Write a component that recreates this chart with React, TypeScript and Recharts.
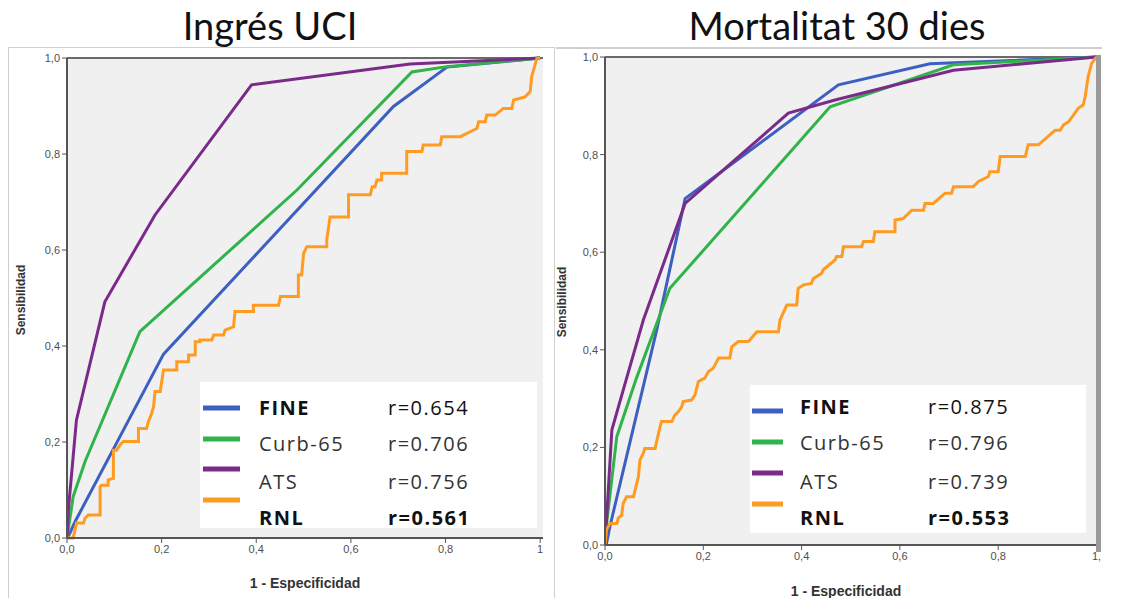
import React from 'react';
import { LineChart, Line, XAxis, YAxis, CartesianGrid, ReferenceLine } from 'recharts';

// ---- Data: ROC curves, [1 - especificidad, sensibilidad] ----
const uciFine = [[0,0],[0.006,0.01],[0.017,0.034],[0.204,0.383],[0.69,0.899],[0.803,0.981],[1,1]];
const uciCurb = [[0,0],[0.013,0.086],[0.038,0.159],[0.154,0.43],[0.486,0.725],[0.729,0.971],[0.803,0.982],[1,1]];
const uciAts = [[0,0],[0.003,0.06],[0.02,0.246],[0.08,0.492],[0.186,0.673],[0.39,0.944],[0.725,0.9875],[1,1]];
const uciRnl = [[0,0],[0.013,0],[0.017,0.017],[0.02,0.031],[0.035,0.031],[0.038,0.041],[0.045,0.048],[0.07,0.048],[0.07,0.107],[0.073,0.11],[0.087,0.11],[0.087,0.121],[0.098,0.124],[0.098,0.183],[0.105,0.183],[0.112,0.194],[0.119,0.201],[0.151,0.201],[0.151,0.228],[0.168,0.228],[0.172,0.242],[0.179,0.26],[0.183,0.274],[0.186,0.305],[0.197,0.305],[0.204,0.35],[0.232,0.35],[0.232,0.367],[0.257,0.367],[0.257,0.381],[0.271,0.381],[0.271,0.409],[0.281,0.409],[0.281,0.4125],[0.306,0.4125],[0.31,0.423],[0.331,0.423],[0.334,0.433],[0.352,0.44],[0.355,0.472],[0.394,0.472],[0.394,0.485],[0.447,0.485],[0.451,0.503],[0.489,0.503],[0.489,0.548],[0.496,0.548],[0.5,0.593],[0.507,0.607],[0.549,0.607],[0.549,0.621],[0.556,0.669],[0.595,0.669],[0.595,0.715],[0.641,0.715],[0.645,0.732],[0.651,0.732],[0.655,0.746],[0.665,0.746],[0.665,0.76],[0.718,0.76],[0.718,0.805],[0.75,0.805],[0.753,0.819],[0.789,0.819],[0.792,0.836],[0.831,0.836],[0.866,0.853],[0.87,0.867],[0.884,0.867],[0.887,0.881],[0.905,0.881],[0.922,0.895],[0.94,0.895],[0.944,0.9125],[0.968,0.919],[0.979,0.93],[0.982,0.961],[0.989,0.985],[0.993,0.999],[1,1]];

const mortFine = [[0,0],[0.003,0.003],[0.01,0.038],[0.105,0.44],[0.163,0.71],[0.475,0.943],[0.661,0.986],[1,1]];
const mortCurb = [[0,0],[0.004,0.05],[0.024,0.222],[0.064,0.342],[0.132,0.526],[0.458,0.898],[0.709,0.984],[1,1]];
const mortAts = [[0,0],[0.003,0.05],[0.014,0.236],[0.044,0.342],[0.078,0.461],[0.163,0.7],[0.373,0.885],[0.468,0.912],[0.709,0.973],[1,1]];
const mortRnl = [[0,0],[0.003,0.031],[0.01,0.044],[0.024,0.044],[0.027,0.055],[0.034,0.061],[0.037,0.085],[0.044,0.099],[0.058,0.099],[0.068,0.14],[0.071,0.174],[0.078,0.188],[0.081,0.198],[0.102,0.198],[0.105,0.212],[0.112,0.242],[0.115,0.253],[0.136,0.253],[0.142,0.266],[0.149,0.273],[0.156,0.283],[0.159,0.294],[0.176,0.297],[0.183,0.307],[0.19,0.335],[0.203,0.342],[0.21,0.355],[0.22,0.362],[0.231,0.383],[0.254,0.383],[0.258,0.406],[0.271,0.417],[0.292,0.417],[0.309,0.437],[0.353,0.437],[0.356,0.461],[0.37,0.492],[0.39,0.492],[0.393,0.526],[0.404,0.533],[0.42,0.536],[0.424,0.546],[0.441,0.557],[0.444,0.564],[0.468,0.584],[0.471,0.591],[0.482,0.591],[0.485,0.611],[0.522,0.611],[0.526,0.622],[0.546,0.622],[0.549,0.642],[0.59,0.642],[0.59,0.666],[0.607,0.669],[0.624,0.686],[0.648,0.686],[0.651,0.7],[0.668,0.7],[0.692,0.721],[0.705,0.721],[0.709,0.734],[0.749,0.734],[0.76,0.745],[0.78,0.755],[0.783,0.765],[0.8,0.765],[0.804,0.796],[0.855,0.796],[0.861,0.82],[0.882,0.82],[0.909,0.844],[0.916,0.85],[0.926,0.85],[0.933,0.861],[0.943,0.867],[0.953,0.881],[0.963,0.895],[0.973,0.902],[0.977,0.919],[0.983,0.96],[0.99,0.987],[1,1]];

const seriesNames = ['FINE', 'Curb-65', 'ATS', 'RNL'];
const uciR = ['r=0.654', 'r=0.706', 'r=0.756', 'r=0.561'];
const mortR = ['r=0.875', 'r=0.796', 'r=0.739', 'r=0.553'];
const xTicks = [0, 0.2, 0.4, 0.6, 0.8, 1];
const yTicks = [0, 0.2, 0.4, 0.6, 0.8, 1];
const xTickLabelsUci = ['0,0', '0,2', '0,4', '0,6', '0,8', '1'];
const xTickLabelsMort = ['0,0', '0,2', '0,4', '0,6', '0,8', '1,'];
const yTickLabels = ['0,0', '0,2', '0,4', '0,6', '0,8', '1,0'];
const titles = ['Ingrés UCI', 'Mortalitat 30 dies'];

const COLORS = ['#3d5fc2', '#30b34a', '#7a2a89', '#ff9b21'];
const toPts = (arr: number[][]) => arr.map(([x, y]) => ({ x, y }));

const tickStyle = { fontSize: 11, fill: '#505050', fontFamily: 'Liberation Sans, Arial, sans-serif' };

function RocChart({ series, xLabels, width, height, margin, xMax }: any) {
  return (
    <LineChart width={width} height={height} margin={margin}>
      <CartesianGrid horizontal={false} vertical={false} fill="#f0f0f0" />
      <XAxis
        type="number"
        dataKey="x"
        domain={[0, xMax]}
        ticks={xTicks}
        tickFormatter={(v: number) => xLabels[xTicks.indexOf(v)]}
        height={30}
        axisLine={{ stroke: '#555', strokeWidth: 2 }}
        tickLine={{ stroke: '#555' }}
        tickSize={5}
        tick={tickStyle}
        allowDataOverflow
        interval={0}
      />
      <YAxis
        type="number"
        dataKey="y"
        domain={[0, 1]}
        ticks={yTicks}
        tickFormatter={(v: number) => yTickLabels[yTicks.indexOf(v)]}
        width={40}
        axisLine={{ stroke: '#555', strokeWidth: 2 }}
        tickLine={{ stroke: '#555' }}
        tickSize={5}
        tick={tickStyle}
        interval={0}
      />
      <ReferenceLine y={1} stroke="#6a6a6a" strokeWidth={2} />
      {series.map((s: number[][], i: number) => (
        <Line
          key={i}
          data={toPts(s)}
          dataKey="y"
          type="linear"
          stroke={COLORS[i]}
          strokeWidth={3}
          dot={false}
          activeDot={false}
          isAnimationActive={false}
        />
      ))}
    </LineChart>
  );
}

function Legend({ box, swX, swW, swY, nameX, valX, textY, values }: any) {
  return (
    <g>
      <rect x={box[0]} y={box[1]} width={box[2]} height={box[3]} fill="#ffffff" />
      {seriesNames.map((n, i) => (
        <g key={n}>
          <rect x={swX} y={swY[i] - 2.5} width={swW} height={5} fill={COLORS[i]} />
          <text
            x={nameX}
            y={textY[i] + 7}
            fontSize={20}
            letterSpacing={1.5}
            fontFamily="Open Sans, sans-serif"
            fontWeight={i === 0 || i === 3 ? 700 : 400}
            fill={i === 0 || i === 3 ? '#111' : '#333'}
          >
            {n}
          </text>
          <text
            x={valX}
            y={textY[i] + 7}
            fontSize={20}
            letterSpacing={1.5}
            fontFamily="Open Sans, sans-serif"
            fontWeight={i === 3 ? 700 : 400}
            fill={i === 0 || i === 3 ? '#111' : '#333'}
          >
            {values[i]}
          </text>
        </g>
      ))}
    </g>
  );
}

export default function App() {
  return (
    <div style={{ position: 'absolute', left: 0, top: 0, width: 1124, height: 598, background: '#fff', overflow: 'hidden' }}>
      <svg width={1124} height={598} style={{ position: 'absolute', left: 0, top: 0 }}>
        <rect x={8.5} y={47.5} width={546} height={560} fill="#fff" stroke="#cfcfcf" />
        <line x1={556} y1={48} x2={1102} y2={48} stroke="#cfcfcf" strokeWidth={2} />
      </svg>
      <div style={{ position: 'absolute', left: 8, top: 47 }}>
        <RocChart
          series={[uciFine, uciCurb, uciAts, uciRnl]}
          xLabels={xTickLabelsUci}
          width={547}
          height={550}
          margin={{ top: 11, right: 12, bottom: 29, left: 19 }}
          xMax={1.006}
        />
      </div>
      <div style={{ position: 'absolute', left: 560, top: 47 }}>
        <RocChart
          series={[mortFine, mortCurb, mortAts, mortRnl]}
          xLabels={xTickLabelsMort}
          width={545}
          height={551}
          margin={{ top: 10, right: 8, bottom: 23, left: 5 }}
          xMax={1.001}
        />
      </div>
      <svg width={1124} height={598} style={{ position: 'absolute', left: 0, top: 0, pointerEvents: 'none' }}>
        <rect x={1096} y={55} width={5} height={497} fill="#9a9a9a" />
        <text x={270} y={40} textAnchor="middle" fontSize={38} fontFamily="Lato, sans-serif" fill="#111">{titles[0]}</text>
        <text x={837} y={40} textAnchor="middle" fontSize={38} fontFamily="Lato, sans-serif" fill="#111">{titles[1]}</text>
        <text transform="translate(25,300) rotate(-90)" textAnchor="middle" fontSize={12} fontWeight={700} fontFamily="Liberation Sans, Arial, sans-serif" fill="#333">Sensibilidad</text>
        <text transform="translate(566,302) rotate(-90)" textAnchor="middle" fontSize={12} fontWeight={700} fontFamily="Liberation Sans, Arial, sans-serif" fill="#333">Sensibilidad</text>
        <text x={305} y={588} textAnchor="middle" fontSize={14} fontWeight={700} fontFamily="Liberation Sans, Arial, sans-serif" fill="#333">1 - Especificidad</text>
        <text x={846} y={596} textAnchor="middle" fontSize={14} fontWeight={700} fontFamily="Liberation Sans, Arial, sans-serif" fill="#333">1 - Especificidad</text>
        <Legend
          box={[200, 382, 337, 146]}
          swX={203}
          swW={37}
          swY={[408, 439, 469, 500]}
          nameX={259}
          valX={388}
          textY={[408, 444, 482, 518]}
          values={uciR}
        />
        <Legend
          box={[750, 385, 336, 148]}
          swX={752}
          swW={31}
          swY={[411, 442, 473, 504]}
          nameX={800}
          valX={928}
          textY={[407, 443, 482, 518]}
          values={mortR}
        />
      </svg>
    </div>
  );
}
